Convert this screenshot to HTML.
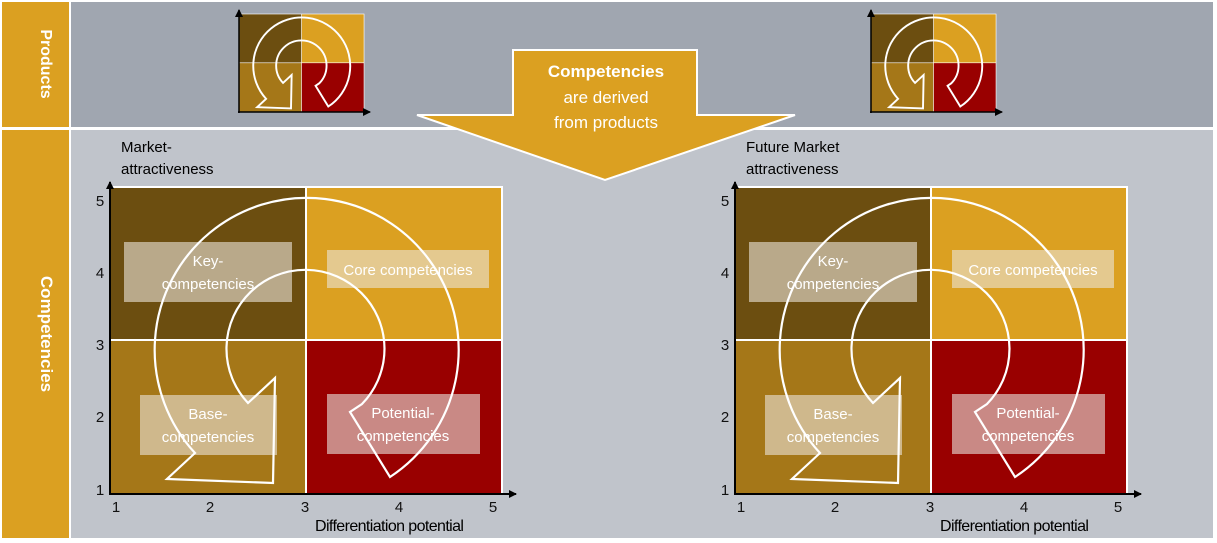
<!DOCTYPE html>
<html><head><meta charset="utf-8"><style>
html,body{margin:0;padding:0;background:#fff;}
svg{display:block;font-family:"Liberation Sans",Calibri,sans-serif;}
</style></head><body>
<svg width="1217" height="543" viewBox="0 0 1217 543" xmlns="http://www.w3.org/2000/svg">
<defs>
<marker id="ah" markerWidth="8" markerHeight="8" refX="7" refY="4" orient="auto" markerUnits="userSpaceOnUse"><path d="M0,0 L8,4 L0,8 Z" fill="#000"/></marker>
<g id="chart">
  <rect x="110" y="187" width="196" height="153" fill="#6c4e10"/>
  <rect x="306" y="187" width="196" height="153" fill="#dba021"/>
  <rect x="110" y="340" width="196" height="154" fill="#a57718"/>
  <rect x="306" y="340" width="196" height="154" fill="#990000"/>
  <rect x="110" y="187" width="392" height="307" fill="none" stroke="#fff" stroke-width="2"/>
  <line x1="306" y1="187" x2="306" y2="494" stroke="#fff" stroke-width="2"/>
  <line x1="110" y1="340" x2="502" y2="340" stroke="#fff" stroke-width="2"/>
</g>
<path id="spiral" d="M195,453 A152 152 0 1 1 390,477 L350,412 L362,404 A79 79 0 1 0 248,403 L275,378 L273,483 L167,479 Z" fill="none" stroke="#fff" stroke-width="2.2"/>
<g id="big">
  <use href="#chart"/>
  <g>
    <rect x="124" y="242" width="168" height="60" fill="#b9a98a"/>
    <rect x="327" y="250" width="162" height="38" fill="#e4c98f"/>
    <rect x="140" y="395" width="137" height="60" fill="#cfb88c"/>
    <rect x="327" y="394" width="153" height="60" fill="#c98985"/>
  </g>
  <use href="#spiral"/>
  <g fill="#fff" font-size="15" text-anchor="middle">
    <text x="208" y="266">Key-</text><text x="208" y="289">competencies</text>
    <text x="408" y="275">Core competencies</text>
    <text x="208" y="419">Base-</text><text x="208" y="442">competencies</text>
    <text x="403" y="418">Potential-</text><text x="403" y="441">competencies</text>
  </g>
  <line x1="110" y1="495" x2="110" y2="182" stroke="#000" stroke-width="2" marker-end="url(#ah)"/>
  <line x1="109" y1="494" x2="516" y2="494" stroke="#000" stroke-width="2" marker-end="url(#ah)"/>
  <g font-size="15" fill="#111" text-anchor="middle">
    <text x="100" y="206">5</text><text x="100" y="278">4</text><text x="100" y="350">3</text><text x="100" y="422">2</text><text x="100" y="495">1</text>
    <text x="116" y="512">1</text><text x="210" y="512">2</text><text x="305" y="512">3</text><text x="399" y="512">4</text><text x="493" y="512">5</text>
  </g>
  <text x="315" y="531" font-size="16" fill="#000" letter-spacing="-0.6">Differentiation potential</text>
</g>
<g id="small">
  <g transform="translate(239,14) scale(0.319,0.319) translate(-110,-187)">
    <use href="#chart"/>
    <path d="M195,453 A152 152 0 1 1 390,477 L350,412 L362,404 A79 79 0 1 0 248,403 L275,378 L273,483 L167,479 Z" fill="none" stroke="#fff" stroke-width="6"/>
  </g>
  <line x1="239" y1="113" x2="239" y2="10" stroke="#000" stroke-width="1.5" marker-end="url(#ah)"/>
  <line x1="238" y1="112" x2="370" y2="112" stroke="#000" stroke-width="1.5" marker-end="url(#ah)"/>
</g>
</defs>
<rect x="0" y="0" width="1217" height="543" fill="#fff"/>
<rect x="71" y="2" width="1142" height="125" fill="#a0a6b0"/>
<rect x="71" y="130" width="1142" height="408" fill="#c0c4cb"/>
<rect x="2" y="2" width="67" height="125" fill="#dba021"/>
<rect x="2" y="130" width="67" height="408" fill="#dba021"/>
<text transform="translate(41,64) rotate(90)" font-size="16" font-weight="bold" fill="#fff" text-anchor="middle">Products</text>
<text transform="translate(41,334) rotate(90)" font-size="17" font-weight="bold" fill="#fff" text-anchor="middle">Competencies</text>
<use href="#small"/>
<use href="#small" transform="translate(632,0)"/>
<polygon points="513,50 697,50 697,115 795,115 605,180 417,115 513,115" fill="#dba021" stroke="#fff" stroke-width="2"/>
<text x="606" y="77" font-size="17" font-weight="bold" fill="#fff" text-anchor="middle">Competencies</text>
<text x="606" y="103" font-size="17" fill="#fff" text-anchor="middle">are derived</text>
<text x="606" y="128" font-size="17" fill="#fff" text-anchor="middle">from products</text>
<use href="#big"/>
<use href="#big" transform="translate(625,0)"/>
<text x="121" y="152" font-size="15" fill="#000">Market-</text>
<text x="121" y="174" font-size="15" fill="#000">attractiveness</text>
<text x="746" y="152" font-size="15" fill="#000">Future Market</text>
<text x="746" y="174" font-size="15" fill="#000">attractiveness</text>
</svg>
</body></html>
